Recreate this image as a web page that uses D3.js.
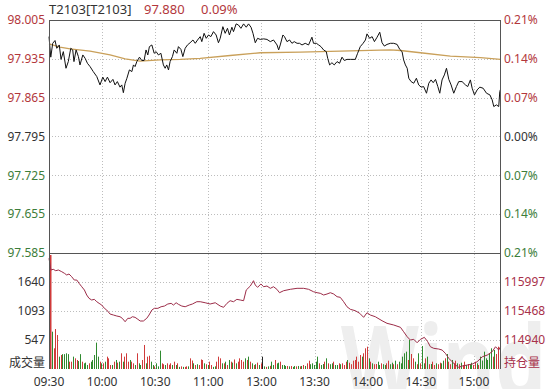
<!DOCTYPE html>
<html>
<head>
<meta charset="utf-8">
<script src="https://cdn.jsdelivr.net/npm/d3@7"></script>
<style>
body{margin:0;background:#fff}
text{font-family:"Noto Sans","Noto Sans CJK SC",sans-serif}
</style>
</head>
<body>
<div id="chart"></div>
<script>
var title = 'T2103[T2103]'
var lastPrice = 97.880
var preClose = 97.795

var timeTicks = [0, 30, 60, 90, 120, 150, 180, 210, 240]
var timeLabels = ['09:30', '10:00', '10:30', '11:00', '13:00', '13:30', '14:00', '14:30', '15:00']
var priceTicks = [98.005, 97.935, 97.865, 97.795, 97.725, 97.655, 97.585]
var volTicks = [547, 1093, 1640]
var oiTicks = [114940, 115468, 115997]

// minute from open (09:30), price
var priceMin = [0, 1, 2.1, 3.4, 4.4, 5.8, 6.8, 8.1, 9.6, 10.9, 12.3, 13.4, 14.1, 15.3, 16.6, 17.5, 19.1, 20.4, 21.7, 23.2,
  25, 27, 28.8, 30.4, 31.7, 33, 34.5, 36.1, 37.3, 38.6, 40.1, 41.1, 42, 43, 44, 45.4, 46.8, 47.7, 48.6, 49.6,
  51.1, 52.4, 53.7, 54.8, 55.8, 56.7, 58.1, 59.4, 60.5, 61.8, 63.2, 64.6, 65.6, 66.5, 67.5, 68.4, 69.7, 70.7, 72.2, 73.1,
  74.5, 75.6, 76.9, 78.2, 79.7, 81.3, 82.6, 83.9, 85.4, 86.3, 87.6, 88.8, 90.1, 91.4, 92.9, 94.4, 95.7, 96.7, 98.2, 99.5,
  100.8, 101.9, 103.3, 104.2, 105.7, 107, 108.4, 109.9, 111.4, 112.7, 114.1, 115.2, 116.5, 117.8, 119.3, 121.2, 123.1, 125, 126.8, 128.8,
  129.7, 130.6, 132.1, 133, 134.4, 135.9, 137.2, 138.5, 140.1, 141.5, 142.9, 144.7, 146.6, 148.5, 149.4, 151, 152.3, 153.6, 155.1, 156.6,
  157.4, 158.5, 159.8, 161.1, 162.7, 164.1, 165.5, 166.8, 168.3, 170.2, 173, 174.3, 175.8, 177.4, 178.7, 179.6, 181.1, 182.5, 183.8, 185.3,
  186.8, 188.1, 189.4, 190.9, 192.8, 194.7, 196.6, 198.1, 199.4, 200.3, 201.3, 202.3, 203.2, 204.5, 206, 207.5, 208.8, 210.2, 211.6, 213.2,
  214.5, 215.8, 217, 218.3, 219.6, 220.7, 222, 223.3, 224.5, 225.8, 227.1, 228.6, 230.1, 231.4, 233.3, 235.2, 236.5, 238, 239, 240.3,
  241.8, 243.3, 245.2, 247.1, 249, 250.3, 251.2, 252.7, 254, 254.6, 255]
var price = [97.975, 97.938, 97.963, 97.968, 97.954, 97.960, 97.934, 97.948, 97.918, 97.930, 97.954, 97.951, 97.930, 97.951, 97.939, 97.924, 97.942, 97.936, 97.927, 97.921,
  97.912, 97.903, 97.888, 97.902, 97.894, 97.902, 97.892, 97.898, 97.888, 97.894, 97.884, 97.888, 97.874, 97.891, 97.900, 97.915, 97.912, 97.924, 97.921, 97.930,
  97.938, 97.932, 97.932, 97.951, 97.942, 97.957, 97.960, 97.945, 97.948, 97.942, 97.945, 97.924, 97.918, 97.924, 97.915, 97.930, 97.939, 97.951, 97.945, 97.957,
  97.952, 97.939, 97.954, 97.960, 97.964, 97.969, 97.963, 97.969, 97.975, 97.966, 97.981, 97.972, 97.978, 97.975, 97.984, 97.978, 97.964, 97.972, 97.993, 97.981,
  97.990, 97.978, 97.992, 97.984, 97.998, 97.996, 97.990, 97.998, 97.992, 97.998, 97.992, 97.981, 97.964, 97.972, 97.970, 97.971, 97.970, 97.966, 97.969, 97.960,
  97.951, 97.960, 97.978, 97.975, 97.966, 97.969, 97.963, 97.966, 97.963, 97.963, 97.960, 97.963, 97.960, 97.974, 97.963, 97.963, 97.960, 97.957, 97.951, 97.948,
  97.936, 97.924, 97.928, 97.924, 97.930, 97.927, 97.938, 97.932, 97.934, 97.934, 97.934, 97.945, 97.957, 97.963, 97.969, 97.980, 97.972, 97.975, 97.966, 97.974,
  97.983, 97.964, 97.958, 97.961, 97.963, 97.963, 97.961, 97.952, 97.948, 97.933, 97.924, 97.918, 97.900, 97.894, 97.891, 97.900, 97.888, 97.884, 97.885, 97.873,
  97.891, 97.897, 97.892, 97.898, 97.885, 97.873, 97.897, 97.906, 97.918, 97.898, 97.888, 97.873, 97.885, 97.894, 97.894, 97.888, 97.885, 97.897, 97.882, 97.870,
  97.879, 97.884, 97.882, 97.873, 97.870, 97.861, 97.849, 97.852, 97.849, 97.876, 97.880]

var avgMin = [0, 6.2, 11.9, 23.2, 34.5, 43, 51.5, 62.8, 74.1, 85.4, 102.3, 119.3, 141.9, 164.5, 192.8, 198.5, 209.8, 226.7, 243.7, 255]
var avgPrice = [97.962, 97.956, 97.953, 97.949, 97.942, 97.935, 97.931, 97.933, 97.934, 97.936, 97.941, 97.946, 97.947, 97.949, 97.951, 97.950, 97.946, 97.940, 97.937, 97.934]

var oiMin = [0, 1.1, 2.4, 3.8, 5.3, 7.2, 8.7, 10, 11.3, 12.8, 14.3, 15.7, 17, 18.5, 20, 21.3, 22.6, 24.1, 25.6, 27,
  28.3, 29.8, 31.3, 32.6, 34.5, 36.4, 38.3, 40.1, 41.4, 43, 44.5, 45.8, 47.1, 48.6, 50.2, 51.5, 53.3, 55.2, 56.5, 58.1,
  59.5, 61.5, 63.3, 65.2, 67.1, 69, 70.3, 71.8, 73.1, 75, 76.9, 79.2, 81, 83.5, 85.4, 88.2, 91, 93.9, 96.7, 98.6,
  100.5, 102.3, 104.2, 106.1, 108, 109.9, 111.4, 113.7, 115.5, 116.5, 117.8, 119.7, 121.2, 123.1, 125, 126.8, 128.7, 130.2, 132.5, 136.3,
  140.1, 143.8, 146.6, 149.4, 151.4, 153.2, 155.1, 157, 158.9, 160.8, 162.7, 164.5, 166.4, 168.3, 170.2, 173, 175.5, 177.7, 179.6, 181.5,
  184.3, 188.1, 190.9, 194.7, 198.5, 200.3, 202.3, 204.1, 206, 207.9, 209.8, 212, 213.9, 215.4, 217.3, 220.1, 222, 223.9, 225.8, 227.7,
  229.6, 231.4, 233.3, 236.2, 239, 241.8, 244.7, 247.5, 250.3, 252.2, 254, 255]
var oi = [116429, 116216, 116229, 116203, 116216, 116185, 116156, 116125, 116143, 116094, 116033, 116033, 115973, 115911, 115851, 115760, 115700, 115669, 115681, 115638,
  115608, 115577, 115517, 115486, 115413, 115395, 115377, 115364, 115335, 115273, 115335, 115335, 115364, 115353, 115317, 115286, 115286, 115335, 115395, 115486,
  115517, 115517, 115546, 115559, 115596, 115608, 115577, 115619, 115590, 115559, 115546, 115577, 115596, 115638, 115638, 115619, 115596, 115619, 115559, 115536,
  115608, 115656, 115638, 115681, 115669, 115656, 115851, 115924, 116021, 115942, 115900, 115961, 115911, 115924, 115882, 115911, 115864, 115802, 115838, 115864,
  115882, 115882, 115864, 115820, 115802, 115791, 115760, 115778, 115802, 115778, 115729, 115718, 115638, 115546, 115499, 115474, 115426, 115353, 115437, 115395,
  115364, 115291, 115244, 115213, 115171, 115090, 114999, 114939, 114952, 114890, 114952, 114988, 114908, 114817, 114788, 114775, 114757, 114696, 114605, 114543,
  114483, 114441, 114465, 114483, 114501, 114543, 114634, 114665, 114726, 114817, 114757, 114817]

// volume per minute and tick direction (r up, g down, k flat)
var volume = [2150, 704, 390, 754, 641, 233, 264, 280, 280, 296,
  280, 138, 138, 233, 201, 170, 150, 280, 138, 107,
  120, 75, 107, 138, 170, 264, 497, 233, 138, 107,
  107, 138, 233, 201, 75, 75, 138, 170, 120, 138,
  296, 138, 233, 296, 138, 170, 138, 107, 75, 296,
  107, 75, 170, 453, 107, 233, 250, 138, 75, 50,
  107, 50, 346, 107, 90, 75, 107, 80, 107, 75,
  138, 75, 107, 40, 50, 40, 40, 50, 50, 201,
  160, 107, 75, 90, 75, 180, 170, 107, 90, 75,
  138, 75, 40, 50, 138, 233, 201, 107, 107, 138,
  75, 170, 138, 120, 180, 107, 138, 201, 170, 138,
  201, 170, 233, 138, 107, 75, 90, 120, 75, 107,
  233, 50, 40, 50, 60, 138, 75, 170, 107, 119,
  138, 75, 75, 57, 57, 50, 57, 40, 57, 50,
  57, 50, 57, 75, 57, 107, 157, 90, 107, 75,
  138, 233, 107, 75, 94, 138, 201, 107, 90, 107,
  138, 75, 75, 107, 90, 107, 75, 138, 170, 119,
  90, 157, 170, 233, 138, 264, 233, 296, 390, 421,
  201, 138, 107, 90, 94, 138, 75, 107, 90, 75,
  107, 157, 90, 119, 90, 157, 90, 138, 107, 233,
  296, 327, 170, 547, 283, 201, 138, 90, 296, 107,
  434, 107, 201, 233, 90, 94, 138, 75, 107, 90,
  119, 107, 157, 201, 283, 138, 90, 170, 107, 157,
  107, 90, 119, 75, 138, 75, 94, 90, 119, 75,
  138, 107, 75, 233, 160, 327, 201, 170, 283, 390,
  233, 358, 283, 421, 453]
var volDir = ('rgrrrgrggg' + 'grrgrrggrg' + 'ggrgggggrg' + 'rgrrrgrgrg' + 'rgrrrgrrgr' +
  'ggrrgrrggr' + 'gggrrgrrrg' + 'rgrgrgrrgr' + 'rgrgrrrgrg' + 'rrggrrrgrg' +
  'rgrgrgrrrr' + 'grgrgrgrgr' + 'kgrgrggrgg' + 'rgggrgrggr' + 'grgrgrrggg' +
  'ggrggrgrgg' + 'rggrgrrrgr' + 'rrrrrrgrrr' + 'grgrrggrgg' + 'rrggrgrggg' +
  'ggrgrrgrgr' + 'ggrgrgrrgr' + 'rggrgrrgrr' + 'grgrrgrggr' + 'rgrggggggg' + 'rgrrr').split('')

var W = 551, H = 389
var plotL = 49, plotR = 500.5, plotT = 20, plotM = 253, plotB = 369
var red = '#b3373c', green = '#3d7d3a', dark = '#333'

var svg = d3.select('#chart').append('svg')
    .attr('width', W)
    .attr('height', H)

var x = d3.scaleLinear().domain([0, 255]).range([plotL, plotR])
var yP = d3.scaleLinear().domain([97.585, 98.005]).range([plotM, plotT])
var yV = d3.scaleLinear().domain([0, 2188]).range([plotB, plotM])
var yO = d3.scaleLinear().domain([114411, 116526]).range([plotB, plotM])

function priceColor(p){
    if (Math.abs(p - preClose) < 1e-6) return dark
    return p > preClose ? red : green
}

// grid
var grid = svg.append('g')
    .attr('stroke', '#bdbdbd')
    .attr('stroke-dasharray', '1,2')
    .attr('shape-rendering', 'crispEdges')
grid.selectAll('line.v')
    .data(timeTicks.slice(1))
    .enter().append('line')
    .attr('x1', function(d){return Math.round(x(d)) + 0.5})
    .attr('x2', function(d){return Math.round(x(d)) + 0.5})
    .attr('y1', plotT)
    .attr('y2', plotB)
grid.selectAll('line.hp')
    .data(priceTicks.slice(1, -1))
    .enter().append('line')
    .attr('x1', plotL)
    .attr('x2', plotR)
    .attr('y1', function(d){return Math.round(yP(d)) + 0.5})
    .attr('y2', function(d){return Math.round(yP(d)) + 0.5})
grid.selectAll('line.hv')
    .data(volTicks)
    .enter().append('line')
    .attr('x1', plotL)
    .attr('x2', plotR)
    .attr('y1', function(d){return Math.round(yV(d)) + 0.5})
    .attr('y2', function(d){return Math.round(yV(d)) + 0.5})

// watermark
svg.append('text')
    .attr('x', 341)
    .attr('y', 398)
    .attr('font-size', 100)
    .attr('font-weight', 'bold')
    .attr('textLength', 205)
    .attr('lengthAdjust', 'spacingAndGlyphs')
    .attr('fill', '#eeeeee')
    .text('Wind')

// volume bars
svg.append('g')
    .selectAll('line')
    .data(volume)
    .enter().append('line')
    .attr('x1', function(d, i){return Math.round(x(i)) + 1.5})
    .attr('x2', function(d, i){return Math.round(x(i)) + 1.5})
    .attr('y1', yV(0))
    .attr('y2', function(d){return yV(d)})
    .attr('stroke', function(d, i){
        var c = volDir[i]
        return c == 'r' ? '#d03a3a' : (c == 'k' ? '#222' : '#2f8a2f')
    })
    .attr('stroke-width', function(d, i){return i == 0 ? 2 : 1})

// open interest
var oiLine = d3.line()
    .x(function(d, i){return x(oiMin[i])})
    .y(function(d){return yO(d)})
svg.append('path')
    .attr('d', oiLine(oi))
    .attr('fill', 'none')
    .attr('stroke', '#9c2c48')
    .attr('stroke-width', 1)

// average and price
var avgLine = d3.line()
    .x(function(d, i){return x(avgMin[i])})
    .y(function(d){return yP(d)})
svg.append('path')
    .attr('d', avgLine(avgPrice))
    .attr('fill', 'none')
    .attr('stroke', '#c9a05a')
    .attr('stroke-width', 1.3)

var pLine = d3.line()
    .x(function(d, i){return x(priceMin[i])})
    .y(function(d){return yP(d)})
svg.append('path')
    .attr('d', pLine(price))
    .attr('fill', 'none')
    .attr('stroke', '#111')
    .attr('stroke-width', 1)

// frame
var frame = svg.append('g')
    .attr('stroke', '#555')
    .attr('shape-rendering', 'crispEdges')
frame.append('line').attr('x1', plotL + 0.5).attr('x2', plotL + 0.5).attr('y1', plotT).attr('y2', plotB)
frame.append('line').attr('x1', plotR).attr('x2', plotR).attr('y1', plotT).attr('y2', plotB)
frame.append('line').attr('x1', plotL).attr('x2', plotR).attr('y1', plotT + 0.5).attr('y2', plotT + 0.5)
frame.append('line').attr('x1', plotL).attr('x2', plotR).attr('y1', plotM + 0.5).attr('y2', plotM + 0.5)

// left price labels
svg.append('g')
    .selectAll('text')
    .data(priceTicks)
    .enter().append('text')
    .attr('x', 45)
    .attr('y', function(d){return yP(d)})
    .attr('dy', '0.35em')
    .attr('text-anchor', 'end')
    .attr('font-size', 12)
    .attr('fill', function(d){return priceColor(d)})
    .text(function(d){return d.toFixed(3)})

// right percent labels
svg.append('g')
    .selectAll('text')
    .data(priceTicks)
    .enter().append('text')
    .attr('x', 504)
    .attr('y', function(d){return yP(d)})
    .attr('dy', '0.35em')
    .attr('font-size', 12)
    .attr('fill', function(d){return priceColor(d)})
    .text(function(d){return Math.abs((d - preClose) / preClose * 100).toFixed(2) + '%'})

// volume labels
svg.append('g')
    .selectAll('text')
    .data(volTicks)
    .enter().append('text')
    .attr('x', 45)
    .attr('y', function(d){return yV(d)})
    .attr('dy', '0.35em')
    .attr('text-anchor', 'end')
    .attr('font-size', 12)
    .attr('fill', dark)
    .text(function(d){return d})

svg.append('g')
    .selectAll('text')
    .data(oiTicks)
    .enter().append('text')
    .attr('x', 504)
    .attr('y', function(d){return yO(d)})
    .attr('dy', '0.35em')
    .attr('font-size', 12)
    .attr('fill', '#a8304a')
    .text(function(d){return d})

svg.append('text')
    .attr('x', 45).attr('y', 363).attr('dy', '0.35em')
    .attr('text-anchor', 'end')
    .attr('font-size', 12)
    .attr('fill', dark)
    .text('成交量')
svg.append('text')
    .attr('x', 504).attr('y', 363).attr('dy', '0.35em')
    .attr('font-size', 12)
    .attr('fill', '#a8304a')
    .text('持仓量')

// time axis
svg.append('g')
    .selectAll('text')
    .data(timeTicks)
    .enter().append('text')
    .attr('x', function(d){return x(d)})
    .attr('y', 382)
    .attr('dy', '0.35em')
    .attr('text-anchor', 'middle')
    .attr('font-size', 12)
    .attr('fill', dark)
    .text(function(d, i){return timeLabels[i]})

// title
var pct = (lastPrice - preClose) / preClose * 100
svg.append('text').attr('x', 49).attr('y', 9).attr('dy', '0.35em')
    .attr('font-size', 13).attr('fill', dark).text(title)
svg.append('text').attr('x', 144).attr('y', 9).attr('dy', '0.35em')
    .attr('font-size', 13).attr('fill', priceColor(lastPrice)).text(lastPrice.toFixed(3))
svg.append('text').attr('x', 201).attr('y', 9).attr('dy', '0.35em')
    .attr('font-size', 13).attr('fill', priceColor(lastPrice)).text(pct.toFixed(2) + '%')
</script>
</body>
</html>
